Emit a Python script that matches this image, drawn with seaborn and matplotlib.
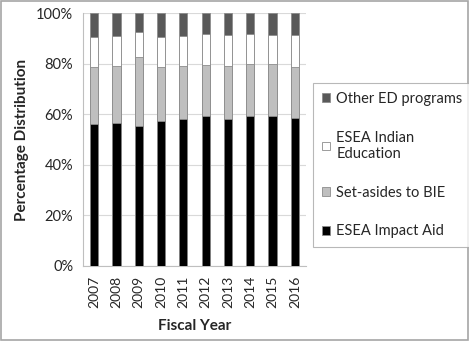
import matplotlib
matplotlib.use("Agg")
import matplotlib.pyplot as plt
from matplotlib.patches import Patch, Rectangle
import seaborn as sns
import pandas as pd
import numpy as np

# Share of federal Indian education funding by program (percent)
years = ["2007", "2008", "2009", "2010", "2011", "2012", "2013", "2014", "2015", "2016"]
impact_aid = [56.0, 56.4, 55.5, 57.2, 58.1, 59.2, 58.1, 59.2, 59.4, 58.6]
bie_setasides = [22.6, 22.6, 27.1, 21.4, 21.0, 20.3, 21.0, 20.7, 20.5, 20.0]
indian_education = [12.1, 12.0, 9.9, 12.1, 11.8, 12.2, 12.2, 11.8, 11.6, 12.8]
other_ed = [9.3, 9.0, 7.5, 9.3, 9.1, 8.3, 8.7, 8.3, 8.5, 8.6]

series = [
    ("ESEA Impact Aid", impact_aid, "#000000"),
    ("Set-asides to BIE", bie_setasides, "#bfbfbf"),
    ("ESEA Indian\nEducation", indian_education, "#ffffff"),
    ("Other ED programs", other_ed, "#595959"),
]

df = pd.DataFrame({"year": years})
running = np.zeros(len(years))
for name, vals, _ in series:
    running = running + np.array(vals)
    df[name] = running

sns.set_style("white")
plt.rcParams["font.family"] = ["Lato", "DejaVu Sans"]

fig = plt.figure(figsize=(4.69, 3.41), dpi=100)
ax = fig.add_axes([83 / 469, 1 - 265.7 / 341, 223 / 469, 252.4 / 341])

edge = "#8c8c8c"
# stacked bars: draw cumulative totals from the top segment downward
for name, _, color in reversed(series):
    sns.barplot(data=df, x="year", y=name, order=years, color=color,
                width=0.37, edgecolor=edge, linewidth=0.6, ax=ax,
                saturation=1, zorder=3)

ax.set_ylim(0, 100)
ax.set_xlim(-0.5, len(years) - 0.5)
ax.set_yticks(np.arange(0, 101, 20))
ax.set_yticklabels([f"{v}%" for v in range(0, 101, 20)], fontsize=10.5)
ax.set_xticks(range(len(years)))
ax.set_xticklabels(years, rotation=90, fontsize=10)
ax.set_xticks(np.arange(-0.5, len(years), 1), minor=True)
ax.tick_params(axis="x", which="major", length=0, pad=7)
ax.tick_params(axis="x", which="minor", length=4, color="#bfbfbf", width=0.8)
ax.tick_params(axis="y", length=4, color="#bfbfbf", width=0.8, pad=3)
ax.grid(axis="y", color="#d9d9d9", linewidth=0.8, zorder=0)
ax.set_axisbelow(True)
for side in ["top", "right"]:
    ax.spines[side].set_visible(False)
for side in ["left", "bottom"]:
    ax.spines[side].set_color("#bfbfbf")
    ax.spines[side].set_linewidth(0.8)

ax.set_xlabel("Fiscal Year", fontsize=11, fontweight="bold", labelpad=8)
ax.set_ylabel("Percentage Distribution", fontsize=11, fontweight="bold", labelpad=5)

handles = [Patch(facecolor=c, edgecolor=edge, linewidth=0.6, label=n)
           for n, _, c in reversed(series)]
leg = fig.legend(handles=handles, loc="upper left",
                 bbox_to_anchor=(313 / 469, 1 - 83 / 341),
                 fontsize=10.5, frameon=True, fancybox=False,
                 edgecolor="#a6a6a6", labelspacing=1.7,
                 handlelength=0.55, handleheight=0.55, handletextpad=0.45,
                 borderpad=0.6, borderaxespad=0)
leg.get_frame().set_linewidth(0.8)

fig.patches.append(Rectangle((0.002, 0.003), 0.996, 0.994, transform=fig.transFigure,
                             fill=False, edgecolor="#a6a6a6", linewidth=1.2))

fig.savefig("out.png", dpi=100)
